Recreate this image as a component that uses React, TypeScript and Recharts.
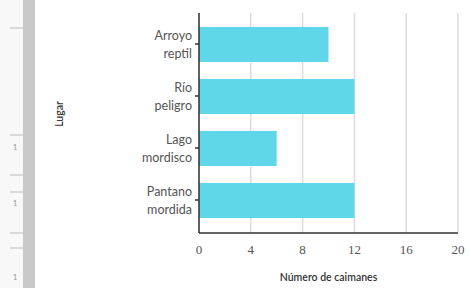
import React from "react";
import { BarChart, Bar, XAxis, YAxis, CartesianGrid } from "recharts";

const places = ["Arroyo reptil", "Río peligro", "Lago mordisco", "Pantano mordida"];
const counts = [10, 12, 6, 12];
const xTicks = [0, 4, 8, 12, 16, 20];

const data = places.map((p, i) => ({ place: p, count: counts[i] }));

const CategoryTick = (props: any) => {
  const { x, y, payload } = props;
  const words = String(payload.value).split(" ");
  return (
    <g>
      {words.map((w: string, i: number) => (
        <text
          key={i}
          x={x}
          y={y + 1 + (i - (words.length - 1) / 2) * 18}
          dy={4}
          textAnchor="end"
          fontFamily="Lato"
          fontSize={12.5}
          fill="#555"
        >
          {w}
        </text>
      ))}
    </g>
  );
};

const leftLines = [28, 135, 175, 192, 233, 248];
const leftOnes = [147, 203, 277];

export default function App() {
  return (
    <div style={{ position: "absolute", left: 0, top: 0, width: 471, height: 288, background: "#fff" }}>
      <svg width={36} height={288} style={{ position: "absolute", left: 0, top: 0 }}>
        <rect x={0} y={0} width={23} height={288} fill="#f8f8f8" />
        <rect x={23} y={0} width={12} height={288} fill="#c9c9c9" />
        {leftLines.map((y, i) => (
          <line key={i} x1={10} x2={23} y1={y} y2={y} stroke="#bbb" strokeWidth={1} />
        ))}
        {leftOnes.map((y, i) => (
          <text key={i} x={15} y={y + 3} fontSize={8} fontFamily="Lato" fill="#999" textAnchor="middle">
            1
          </text>
        ))}
      </svg>
      <div style={{ position: "absolute", left: 0, top: 0 }}>
        <BarChart
          width={471}
          height={288}
          data={data}
          layout="vertical"
          margin={{ top: 13, right: 13, bottom: 0, left: 0 }}
        >
          <CartesianGrid horizontal={false} stroke="#dcdcdc" strokeWidth={1.5} />
          <XAxis
            type="number"
            domain={[0, 20]}
            ticks={xTicks}
            height={55}
            axisLine={{ stroke: "#333", strokeWidth: 1.5 }}
            tickLine={false}
            tickMargin={6}
            tick={{ fontFamily: "Liberation Serif", fontSize: 13, fill: "#555" }}
            label={{
              value: "Número de caimanes",
              position: "insideBottom",
              offset: 7,
              style: { fontFamily: "Lato", fontSize: 10.5, fill: "#333", fontWeight: 600 },
            }}
          />
          <YAxis
            type="category"
            dataKey="place"
            width={199}
            padding={{ top: 5, bottom: 7 }}
            axisLine={{ stroke: "#333", strokeWidth: 1.5 }}
            tickLine={{ stroke: "#333", strokeWidth: 1.5 }}
            tickSize={4}
            tickMargin={3}
            tick={<CategoryTick />}
            label={{
              content: () => (
                <text
                  transform="translate(63,114) rotate(-90)"
                  textAnchor="middle"
                  fontFamily="Lato"
                  fontSize={10.5}
                  fontWeight={600}
                  fill="#333"
                >
                  Lugar
                </text>
              ),
            }}
          />
          <Bar dataKey="count" fill="#5fd7e8" barSize={35} isAnimationActive={false} />
        </BarChart>
      </div>
    </div>
  );
}
